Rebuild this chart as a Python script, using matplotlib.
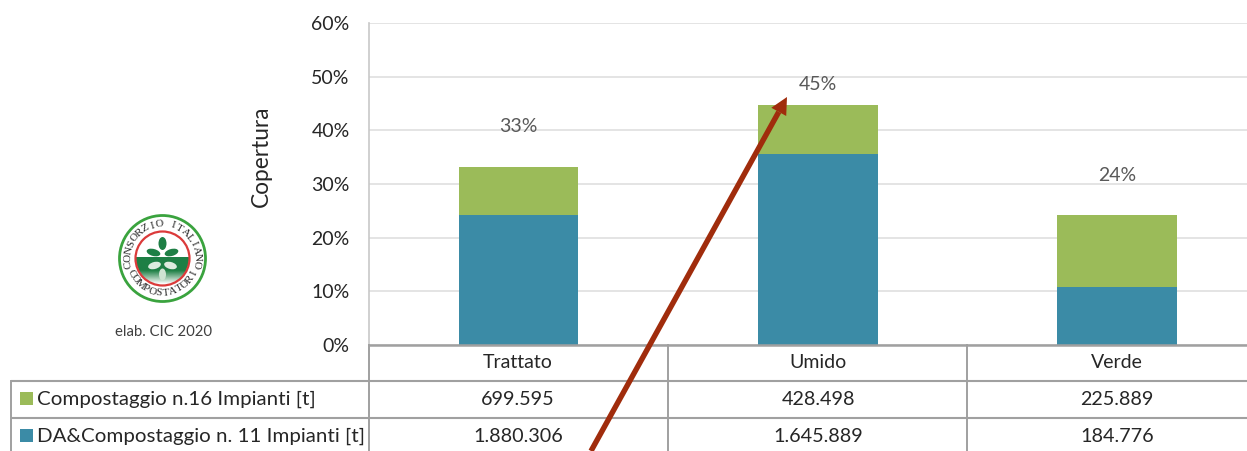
import numpy as np
import matplotlib
matplotlib.use("Agg")
import matplotlib.pyplot as plt
from matplotlib.patches import Circle, Rectangle, Ellipse, Polygon

plt.rcParams['font.family'] = ['Lato', 'DejaVu Sans']

categories = ["Trattato", "Umido", "Verde"]
da_values = [24.2, 35.5, 10.9]
comp_values = [9.0, 9.2, 13.3]
total_labels = ["33%", "45%", "24%"]
comp_table = ["699.595", "428.498", "225.889"]
da_table = ["1.880.306", "1.645.889", "184.776"]
comp_name = "Compostaggio n.16 Impianti [t]"
da_name = "DA&Compostaggio n. 11 Impianti [t]"
y_ticks = [0, 10, 20, 30, 40, 50, 60]

W, H = 1247, 451
GREEN, BLUE = "#9BBB59", "#3B8BA6"
TXT = "#262626"
GRID = "#E4E4E4"
LINE = "#A0A0A0"

fig = plt.figure(figsize=(W / 100, H / 100), dpi=100, facecolor="white")

# chart axes
ax = fig.add_axes([369 / W, 1 - 345 / H, (W - 369) / W, (345 - 23) / H])
x = np.arange(len(categories))
ax.bar(x, da_values, width=0.4, color=BLUE, zorder=3)
ax.bar(x, comp_values, width=0.4, bottom=da_values, color=GREEN, zorder=3)
ax.set_xlim(-0.5, 2.434)
ax.set_ylim(0, 60)
ax.set_yticks(y_ticks)
ax.set_yticklabels([f"{v}%" for v in y_ticks], fontsize=14, color=TXT)
ax.set_xticks([])
ax.tick_params(axis='y', length=0, pad=14)
ax.yaxis.grid(True, color=GRID, lw=1.4, zorder=0)
ax.set_axisbelow(True)
for s in ("top", "right", "bottom"):
    ax.spines[s].set_visible(False)
ax.spines["left"].set_color("#C8C8C8")
ax.spines["left"].set_linewidth(1.2)
offsets = [7.5, 3.9, 7.4]
for xi, d, c, lab, off in zip(x, da_values, comp_values, total_labels, offsets):
    ax.text(xi, d + c + off, lab, ha="center", va="center",
            fontsize=14, color="#595959", zorder=4)

# overlay in pixel coordinates (table, logo, arrow)
ov = fig.add_axes([0, 0, 1, 1], facecolor="none")
ov.set_xlim(0, W)
ov.set_ylim(H, 0)
ov.axis("off")

ov.text(261, 156, "Copertura", rotation=90, ha="center", va="center", fontsize=16.3, color=TXT)

# table
for yy, x0 in ((345, 369), (381, 11), (418, 11)):
    ov.plot([x0, W], [yy, yy], color=LINE, lw=1.5 if yy != 345 else 1.8, solid_capstyle="butt")
ov.plot([11, 11], [381, H], color=LINE, lw=1.4)
for xx in (369, 668, 967):
    ov.plot([xx, xx], [345, H], color=LINE, lw=1.4)
centers = [518, 818, 1117]
for c, name, t1, t2 in zip(centers, categories, comp_table, da_table):
    ov.text(c, 362.5, name, ha="center", va="center", fontsize=14, color=TXT)
    ov.text(c, 399.5, t1, ha="center", va="center", fontsize=14.2, color=TXT)
    ov.text(c, 436.5, t2, ha="center", va="center", fontsize=14.2, color=TXT)
ov.add_patch(Rectangle((20, 392), 13, 13, color=GREEN, lw=0))
ov.add_patch(Rectangle((20, 429), 13, 13, color=BLUE, lw=0))
ov.text(37, 399, comp_name, ha="left", va="center", fontsize=14.75, color=TXT)
ov.text(37, 436, da_name, ha="left", va="center", fontsize=14.75, color=TXT)

# logo
cx, cy = 162.5, 258.5
ov.add_patch(Circle((cx, cy), 43, fc="white", ec="#3AA33E", lw=2))
grad = np.linspace(0, 1, 64)[:, None]
cmap = matplotlib.colors.LinearSegmentedColormap.from_list("g", ["#1E7F45", "#1E7F45", "#FFFFFF"])
im = ov.imshow(grad, extent=(cx - 27, cx + 27, cy + 26, cy - 1), cmap=cmap, aspect="auto", zorder=2)
im.set_clip_path(Circle((cx, cy), 26.5, transform=ov.transData))
ov.set_xlim(0, W)
ov.set_ylim(H, 0)
ov.add_patch(Circle((cx, cy), 27, fc="none", ec="#DB3A3A", lw=1.6, zorder=3))
for dx, dy, w, h, a, col in [(0, -15, 8, 13, 0, "#1E7F45"), (-9, -6, 14, 7, 15, "#1E7F45"),
                             (9, -6, 14, 7, -15, "#1E7F45"), (-8, 7, 13, 7, -15, "#DDEBDF"),
                             (8, 7, 13, 7, 15, "#DDEBDF"), (0, 16, 7, 12, 0, "#CFE3D3")]:
    ov.add_patch(Ellipse((cx + dx, cy + dy), w, h, angle=a, fc=col, lw=0, zorder=2.5))


def arc_text(s, start, end, r, flip):
    angs = np.linspace(start, end, len(s))
    for ch, a in zip(s, angs):
        rad = np.deg2rad(a)
        px, py = cx + r * np.cos(rad), cy - r * np.sin(rad)
        rot = a - 90 if not flip else a + 90
        ov.text(px, py, ch, rotation=rot, ha="center", va="center", fontsize=8,
                family="Liberation Serif", color="#2A2A2A", rotation_mode="anchor")


arc_text("CONSORZIO ITALIANO", 190, -10, 34.5, False)
arc_text("COMPOSTATORI", 205, 335, 34.5, True)
ov.text(163.5, 332.5, "elab. CIC 2020", ha="center", va="center", fontsize=10.7, color="#404040")

# arrow
tip = np.array([787.0, 97.0])
tail = np.array([591.0, 451.0])
u = (tip - tail) / np.linalg.norm(tip - tail)
n = np.array([-u[1], u[0]])
neck = tip - u * 17
ov.plot([tail[0], neck[0]], [tail[1], neck[1]], color="#A02C0C", lw=3.9, solid_capstyle="butt", zorder=6)
ov.add_patch(Polygon([tip, neck + n * 8.5, neck - n * 8.5], closed=True, fc="#A02C0C", lw=0, zorder=6))

fig.savefig("out.png", dpi=100)
